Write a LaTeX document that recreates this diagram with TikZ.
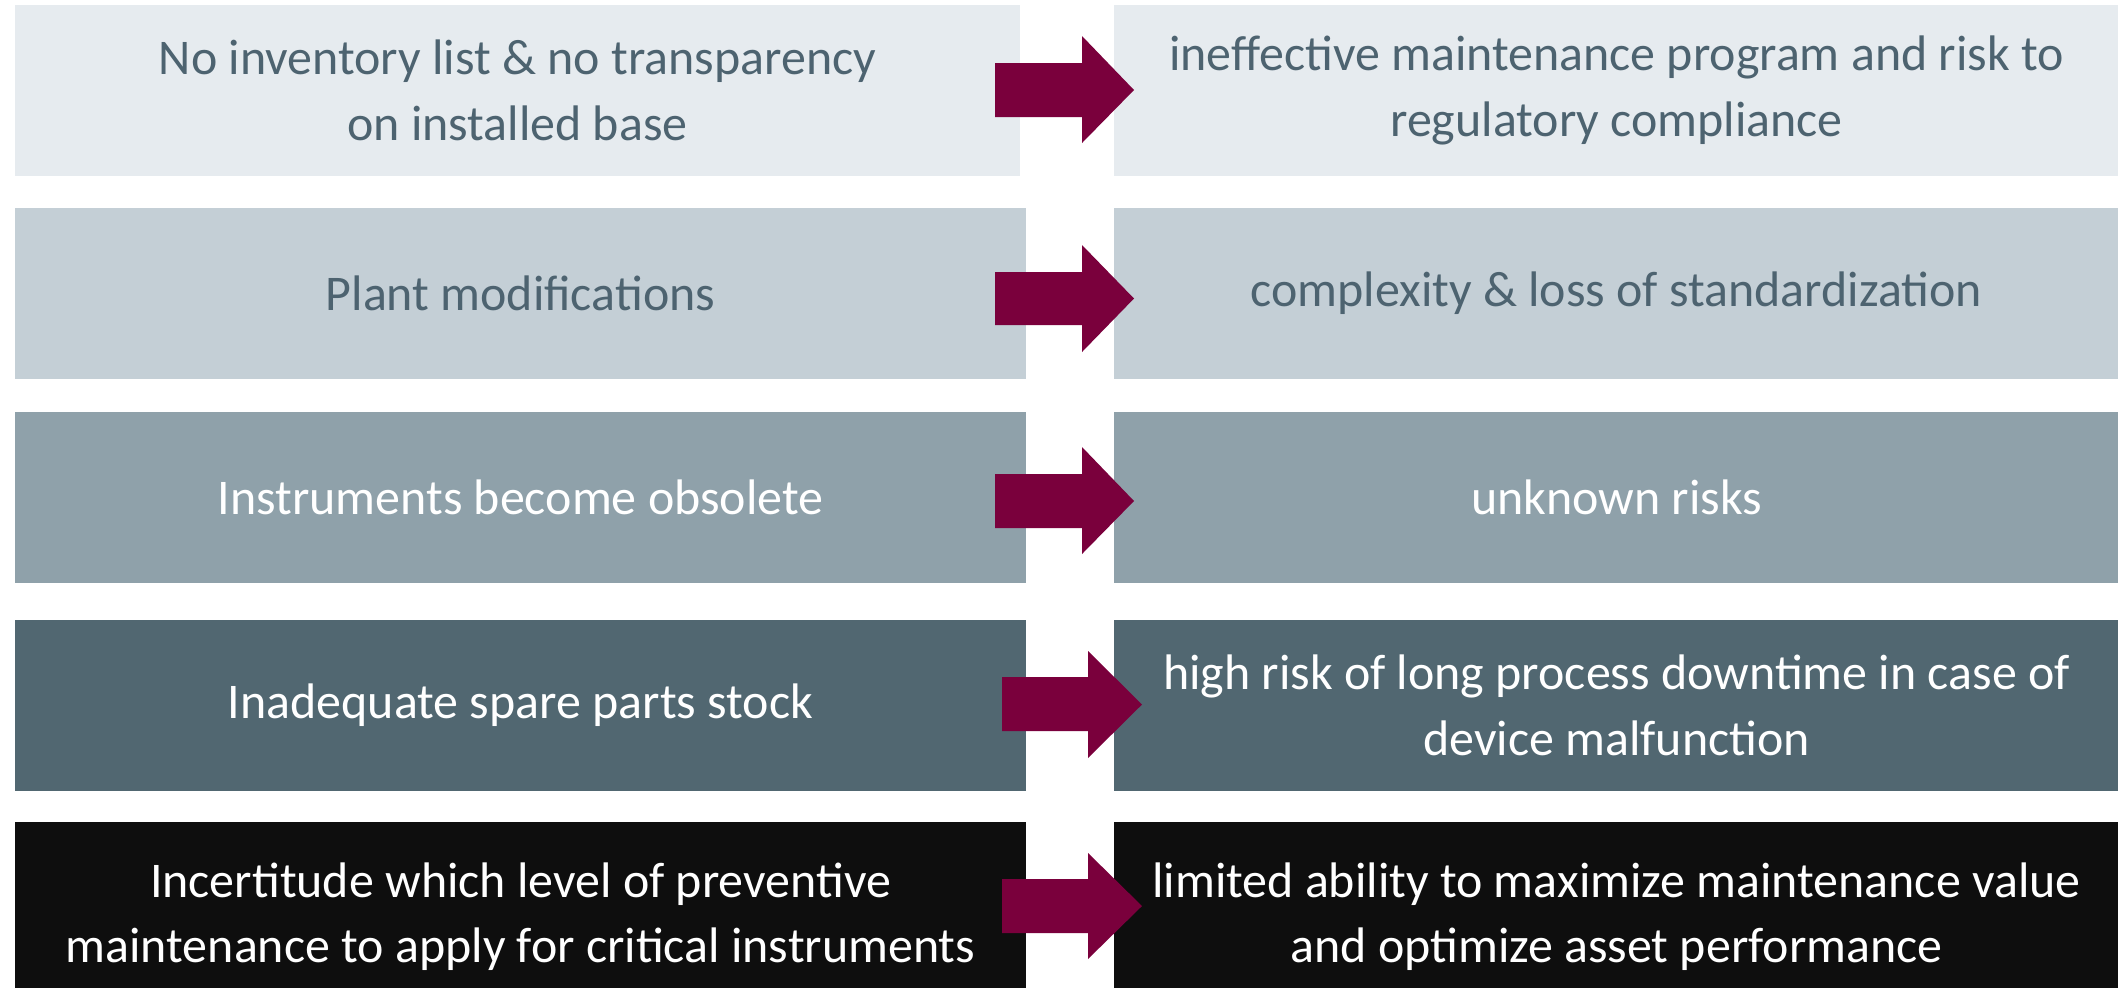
\documentclass[tikz,border=0pt]{standalone}
\usepackage{fontspec}
\setmainfont{Carlito}
\definecolor{rowA}{HTML}{E6EBEF}
\definecolor{rowB}{HTML}{C4CFD6}
\definecolor{rowC}{HTML}{8FA1AA}
\definecolor{rowD}{HTML}{516771}
\definecolor{rowE}{HTML}{0E0E0E}
\definecolor{arrowred}{HTML}{7A003C}
\definecolor{darktext}{HTML}{4D6370}
\tikzset{
  box/.style={draw=none, inner sep=0pt, anchor=north west, minimum height=1.71cm, align=center,
    font=\fontsize{14.2pt}{18.7pt}\selectfont},
  lbox/.style={box, minimum width=10.11cm},
  rbox/.style={box, minimum width=10.05cm},
  blockarrow/.style={fill=arrowred, draw=none}
}
\begin{document}
\begin{tikzpicture}[x=0.01cm,y=-0.01cm]
\path[use as bounding box] (0,0) rectangle (2118,987);
% rows
\node[lbox, fill=rowA, text=darktext, minimum width=10.05cm] (l1) at (14,4) {No inventory list \& no transparency\\on installed base};
\node[rbox, fill=rowA, text=darktext] (r1) at (1113,4) {ineffective maintenance program and risk to\\regulatory compliance};
\node[lbox, fill=rowB, text=darktext] (l2) at (14,207) {Plant modifications};
\node[rbox, fill=rowB, text=darktext] (r2) at (1113,207) {complexity \& loss of standardization};
\node[lbox, fill=rowC, text=white] (l3) at (14,411) {Instruments become obsolete};
\node[rbox, fill=rowC, text=white] (r3) at (1113,411) {unknown risks};
\node[lbox, fill=rowD, text=white] (l4) at (14,619) {Inadequate spare parts stock};
\node[rbox, fill=rowD, text=white] (r4) at (1113,619) {high risk of long process downtime in case of\\device malfunction};
\node[lbox, fill=rowE, text=white, minimum height=1.9cm] (l5) at (14,821) {Incertitude which level of preventive\\maintenance to apply for critical instruments};
\node[rbox, fill=rowE, text=white, minimum height=1.9cm] (r5) at (1113,821) {limited ability to maximize maintenance value\\and optimize asset performance};
% block arrows
\fill[blockarrow] (995,63) -- (1082,63) -- (1082,36) -- (1134,90) -- (1082,143) -- (1082,117) -- (995,117) -- cycle;
\fill[blockarrow] (995,272) -- (1082,272) -- (1082,245) -- (1134,298.5) -- (1082,352) -- (1082,325) -- (995,325) -- cycle;
\fill[blockarrow] (995,474) -- (1082,474) -- (1082,447) -- (1134,501) -- (1082,554) -- (1082,528) -- (995,528) -- cycle;
\fill[blockarrow] (1002,677) -- (1088,677) -- (1088,651) -- (1142,704.5) -- (1088,758) -- (1088,731) -- (1002,731) -- cycle;
\fill[blockarrow] (1002,879) -- (1088,879) -- (1088,853) -- (1142,906) -- (1088,959) -- (1088,933) -- (1002,933) -- cycle;
\end{tikzpicture}
\end{document}
